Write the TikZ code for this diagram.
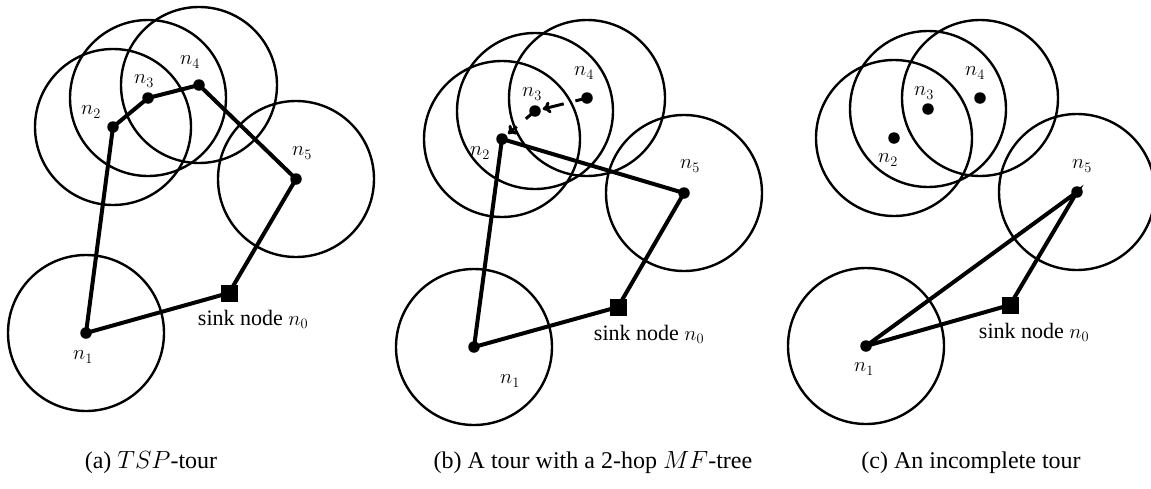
\documentclass[tikz,border=0pt]{standalone}
\usepackage{fontspec}
\setmainfont{Liberation Serif}
\usetikzlibrary{arrows.meta}
\begin{document}
\begin{tikzpicture}[x=1pt,y=-1pt,
  sensor/.style={circle,fill=black,inner sep=0pt,minimum size=11.5pt},
  sinknode/.style={rectangle,fill=black,inner sep=0pt,minimum size=17pt},
  rangecirc/.style={line width=2.4pt},
  tourline/.style={line width=4pt},
  lbl/.style={inner sep=0pt,font=\fontsize{22pt}{26pt}\selectfont},
  captext/.style={inner sep=0pt,font=\fontsize{24pt}{28pt}\selectfont},
  hop/.style={line width=3pt,dash pattern=on 12pt off 12pt on 60pt,-{To[length=8pt,width=12pt]},shorten >=2pt}
]
\useasboundingbox (0,0) rectangle (1151,488);

% ---------- (a) ----------
\node[sensor] (a1) at (86,333) {};
\node[sensor] (a2) at (113,127) {};
\node[sensor] (a3) at (148,98) {};
\node[sensor] (a4) at (199,85) {};
\node[sensor] (a5) at (296,179) {};
\node[sinknode] (a0) at (229,293) {};
\foreach \n in {a1,a2,a3,a4,a5} \draw[rangecirc] (\n.center) circle[radius=78pt];
\draw[tourline] (a1.center) -- (a2.center) -- (a3.center) -- (a4.center) -- (a5.center) -- (a0.center) -- (a1.center);
\node[lbl] (la1) at (83,357) {$n_1$};
\node[lbl] (la2) at (91,112) {$n_2$};
\node[lbl] (la3) at (144,81) {$n_3$};
\node[lbl] (la4) at (190,62) {$n_4$};
\node[lbl] (la5) at (302,153) {$n_5$};
\node[lbl] (la0) at (253,319) {sink node $n_0$};
\node[captext] (capa) at (151,463) {(a) $TSP$-tour};

% ---------- (b) ----------
\node[sensor] (b1) at (474,347) {};
\node[sensor] (b2) at (502,139) {};
\node[sensor] (b3) at (535,111) {};
\node[sensor] (b4) at (587,98) {};
\node[sensor] (b5) at (684,193) {};
\node[sinknode] (b0) at (618,307) {};
\foreach \n in {b1,b2,b3,b4,b5} \draw[rangecirc] (\n.center) circle[radius=78pt];
\draw[tourline] (b1.center) -- (b2.center) -- (b5.center) -- (b0.center) -- (b1.center);
\draw[hop] (b4.center) -- (b3);
\draw[hop] (b3.center) -- (b2);
\node[lbl] (lb1) at (510,381) {$n_1$};
\node[lbl] (lb2) at (480,153) {$n_2$};
\node[lbl] (lb3) at (532,94) {$n_3$};
\node[lbl] (lb4) at (584,73) {$n_4$};
\node[lbl] (lb5) at (690,166) {$n_5$};
\node[lbl] (lb0) at (649,334) {sink node $n_0$};
\node[captext] (capb) at (593,463) {(b) A tour with a 2-hop $MF$-tree};

% ---------- (c) ----------
\node[sensor] (c1) at (866,346) {};
\node[sensor] (c2) at (894,138) {};
\node[sensor] (c3) at (928,109) {};
\node[sensor] (c4) at (980,98) {};
\node[sensor] (c5) at (1077,192) {};
\node[sinknode] (c0) at (1010,305) {};
\foreach \n in {c1,c2,c3,c4,c5} \draw[rangecirc] (\n.center) circle[radius=78pt];
\draw[tourline] (c1.center) -- (c5.center) -- (c0.center) -- (c1.center);
\node[lbl] (lc1) at (864,369) {$n_1$};
\node[lbl] (lc2) at (888,160) {$n_2$};
\node[lbl] (lc3) at (924,93) {$n_3$};
\node[lbl] (lc4) at (975,73) {$n_4$};
\node[lbl] (lc5) at (1082,166) {$n_5$};
\node[lbl] (lc0) at (1034,332) {sink node $n_0$};
\node[captext] (capc) at (971,463) {(c) An incomplete tour};
\end{tikzpicture}
\end{document}
